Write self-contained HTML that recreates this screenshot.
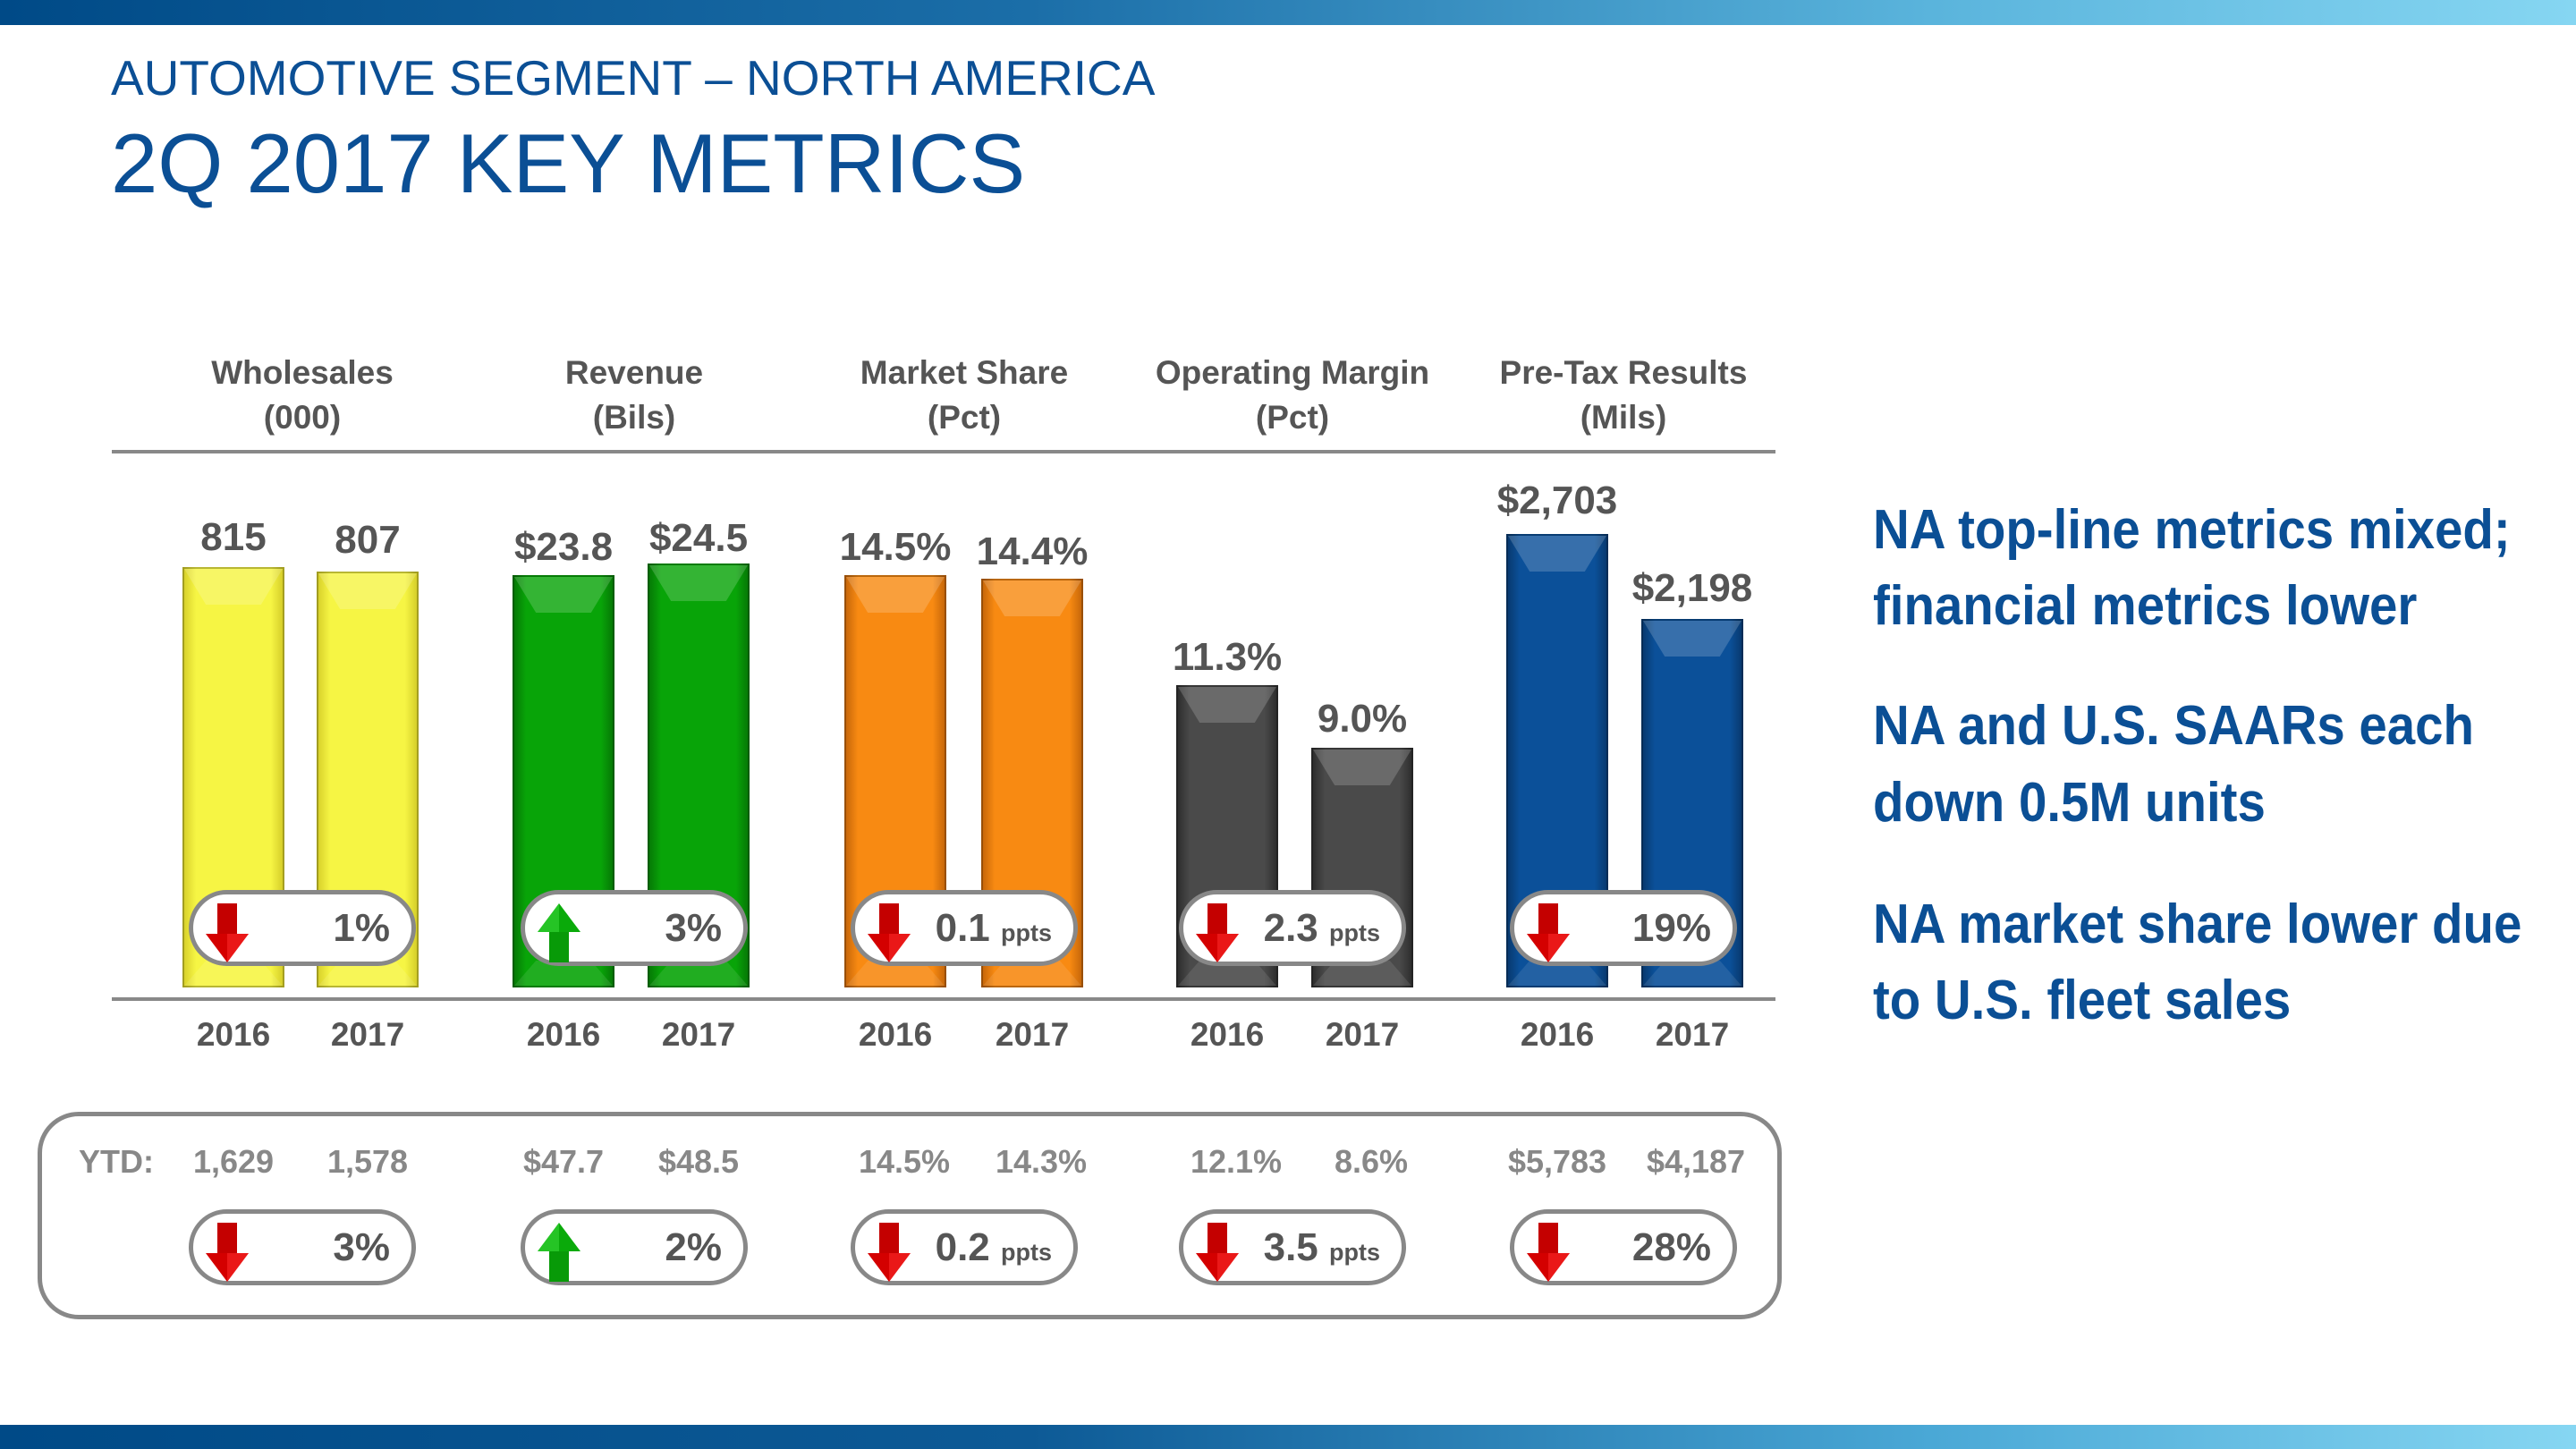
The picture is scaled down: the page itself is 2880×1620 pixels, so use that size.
<!DOCTYPE html>
<html><head><meta charset="utf-8"><style>
*{margin:0;padding:0;box-sizing:border-box}
body{width:2880px;height:1620px;position:relative;background:#fff;font-family:"Liberation Sans",sans-serif;overflow:hidden}
.a{position:absolute}
.t{color:#0b4f95;position:absolute;left:124px;white-space:nowrap;line-height:1}
.h{position:absolute;width:360px;text-align:center;font-weight:bold;color:#555;font-size:37px;line-height:50px}
.bar{position:absolute;width:114px;bottom:516px;border:2px solid rgba(0,0,0,.25)}
.bar::before{content:"";position:absolute;left:0;right:0;top:0;height:40px;background:rgba(255,255,255,.18);clip-path:polygon(0 0,100% 0,78% 100%,22% 100%)}
.bar::after{content:"";position:absolute;left:0;right:0;bottom:0;height:28px;background:rgba(255,255,255,.1);clip-path:polygon(22% 0,78% 0,100% 100%,0 100%)}
.y{background:linear-gradient(90deg,#d9d22c,#f6f544 12%,#f6f544 88%,#d6cf2a)}
.g{background:linear-gradient(90deg,#067a06,#08a408 12%,#08a408 88%,#067a06)}
.o{background:linear-gradient(90deg,#c8680a,#f88a12 12%,#f88a12 88%,#c8680a)}
.k{background:linear-gradient(90deg,#2e2e2e,#4a4a4a 12%,#4a4a4a 88%,#2e2e2e)}
.b{background:linear-gradient(90deg,#083a70,#0b5099 12%,#0b5099 88%,#083a70)}
.v{position:absolute;width:240px;text-align:center;font-weight:bold;color:#555;font-size:44px;line-height:52px}
.p{position:absolute;width:254px;height:85px;border:5px solid #888;border-radius:43px;background:#fff}
.p svg{position:absolute;left:14px;top:10px}
.p span{position:absolute;right:24px;top:12px;font-weight:bold;font-size:44px;color:#555;line-height:52px}
.p small{font-size:27px}
.yr{position:absolute;width:160px;text-align:center;font-weight:bold;color:#555;font-size:37px;line-height:46px}
.yt{position:absolute;width:200px;text-align:center;font-weight:bold;color:#888;font-size:36px;line-height:46px}
.r{position:absolute;left:2094px;font-weight:bold;color:#0b4f95;font-size:62px;line-height:70px;white-space:nowrap;transform:scaleX(.91);transform-origin:left center}
</style></head><body>
<div class="a" style="left:0;top:0;width:2880px;height:28px;background:linear-gradient(90deg,#004a87,#1b6ea8 40%,#5ab4dc 75%,#86d6f2)"></div>
<div class="a" style="left:0;top:1593px;width:2880px;height:27px;background:linear-gradient(90deg,#004a87,#0d5a96 40%,#4aa8d6 75%,#86d6f2)"></div>
<div class="t" style="top:60px;font-size:55px">AUTOMOTIVE SEGMENT – NORTH AMERICA</div>
<div class="t" style="top:136px;font-size:94px">2Q 2017 KEY METRICS</div>

<div class="h" style="left:158px;top:392px">Wholesales<br>(000)</div>
<div class="h" style="left:529px;top:392px">Revenue<br>(Bils)</div>
<div class="h" style="left:898px;top:392px">Market Share<br>(Pct)</div>
<div class="h" style="left:1265px;top:392px">Operating Margin<br>(Pct)</div>
<div class="h" style="left:1635px;top:392px">Pre-Tax Results<br>(Mils)</div>
<div class="a" style="left:125px;top:503px;width:1860px;height:4px;background:#888"></div>
<div class="a" style="left:125px;top:1115px;width:1860px;height:4px;background:#888"></div>

<div class="bar y" style="left:204px;top:634px"></div>
<div class="bar y" style="left:354px;top:639px"></div>
<div class="bar g" style="left:573px;top:643px"></div>
<div class="bar g" style="left:724px;top:630px"></div>
<div class="bar o" style="left:944px;top:643px"></div>
<div class="bar o" style="left:1097px;top:647px"></div>
<div class="bar k" style="left:1315px;top:766px"></div>
<div class="bar k" style="left:1466px;top:836px"></div>
<div class="bar b" style="left:1684px;top:597px"></div>
<div class="bar b" style="left:1835px;top:692px"></div>

<div class="v" style="left:141px;top:575px">815</div>
<div class="v" style="left:291px;top:578px">807</div>
<div class="v" style="left:510px;top:586px">$23.8</div>
<div class="v" style="left:661px;top:576px">$24.5</div>
<div class="v" style="left:881px;top:586px">14.5%</div>
<div class="v" style="left:1034px;top:591px">14.4%</div>
<div class="v" style="left:1252px;top:709px">11.3%</div>
<div class="v" style="left:1403px;top:778px">9.0%</div>
<div class="v" style="left:1621px;top:534px">$2,703</div>
<div class="v" style="left:1772px;top:632px">$2,198</div>

<svg width="0" height="0" style="position:absolute"><defs>
<g id="dn"><rect x="13" y="0" width="22" height="36" fill="#c40000"/><polygon points="0,34 48,34 24,66" fill="#d40000"/><polygon points="24,66 24,34 48,34" fill="#ff3030" opacity=".5"/></g>
<g id="up"><rect x="13" y="30" width="22" height="36" fill="#089a08"/><polygon points="0,32 48,32 24,0" fill="#0aaa0a"/><polygon points="24,0 24,32 0,32" fill="#40dd40" opacity=".5"/></g>
</defs></svg>

<div class="p" style="left:211px;top:995px"><svg width="50" height="66"><use href="#dn"/></svg><span>1%</span></div>
<div class="p" style="left:582px;top:995px"><svg width="50" height="66"><use href="#up"/></svg><span>3%</span></div>
<div class="p" style="left:951px;top:995px"><svg width="50" height="66"><use href="#dn"/></svg><span>0.1 <small>ppts</small></span></div>
<div class="p" style="left:1318px;top:995px"><svg width="50" height="66"><use href="#dn"/></svg><span>2.3 <small>ppts</small></span></div>
<div class="p" style="left:1688px;top:995px"><svg width="50" height="66"><use href="#dn"/></svg><span>19%</span></div>

<div class="yr" style="left:181px;top:1134px">2016</div>
<div class="yr" style="left:331px;top:1134px">2017</div>
<div class="yr" style="left:550px;top:1134px">2016</div>
<div class="yr" style="left:701px;top:1134px">2017</div>
<div class="yr" style="left:921px;top:1134px">2016</div>
<div class="yr" style="left:1074px;top:1134px">2017</div>
<div class="yr" style="left:1292px;top:1134px">2016</div>
<div class="yr" style="left:1443px;top:1134px">2017</div>
<div class="yr" style="left:1661px;top:1134px">2016</div>
<div class="yr" style="left:1812px;top:1134px">2017</div>

<div class="a" style="left:42px;top:1243px;width:1950px;height:232px;border:5px solid #888;border-radius:46px"></div>
<div class="yt" style="left:30px;top:1276px;width:200px">YTD:</div>
<div class="yt" style="left:161px;top:1276px">1,629</div>
<div class="yt" style="left:311px;top:1276px">1,578</div>
<div class="yt" style="left:530px;top:1276px">$47.7</div>
<div class="yt" style="left:681px;top:1276px">$48.5</div>
<div class="yt" style="left:911px;top:1276px">14.5%</div>
<div class="yt" style="left:1064px;top:1276px">14.3%</div>
<div class="yt" style="left:1282px;top:1276px">12.1%</div>
<div class="yt" style="left:1433px;top:1276px">8.6%</div>
<div class="yt" style="left:1641px;top:1276px">$5,783</div>
<div class="yt" style="left:1796px;top:1276px">$4,187</div>

<div class="p" style="left:211px;top:1352px"><svg width="50" height="66"><use href="#dn"/></svg><span>3%</span></div>
<div class="p" style="left:582px;top:1352px"><svg width="50" height="66"><use href="#up"/></svg><span>2%</span></div>
<div class="p" style="left:951px;top:1352px"><svg width="50" height="66"><use href="#dn"/></svg><span>0.2 <small>ppts</small></span></div>
<div class="p" style="left:1318px;top:1352px"><svg width="50" height="66"><use href="#dn"/></svg><span>3.5 <small>ppts</small></span></div>
<div class="p" style="left:1688px;top:1352px"><svg width="50" height="66"><use href="#dn"/></svg><span>28%</span></div>

<div class="r" style="top:558px">NA top-line metrics mixed;</div>
<div class="r" style="top:643px">financial metrics lower</div>
<div class="r" style="top:777px">NA and U.S. SAARs each</div>
<div class="r" style="top:863px">down 0.5M units</div>
<div class="r" style="top:999px">NA market share lower due</div>
<div class="r" style="top:1084px">to U.S. fleet sales</div>
</body></html>
